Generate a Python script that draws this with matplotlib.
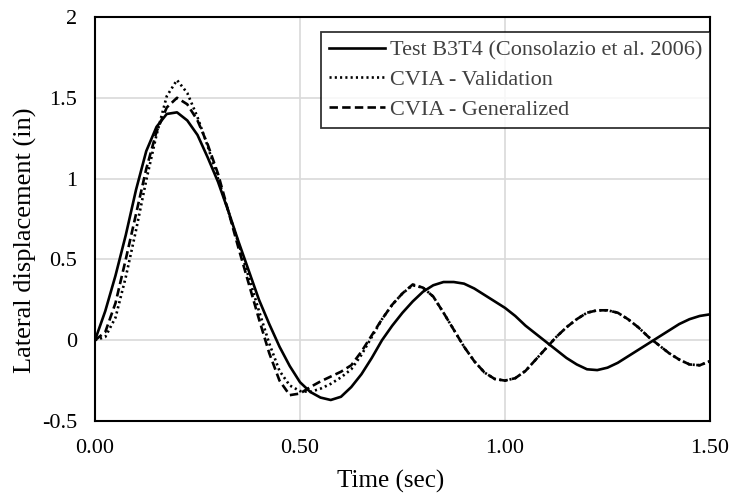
import matplotlib
matplotlib.use('Agg')
import matplotlib.pyplot as plt
import numpy as np

plt.rcParams['font.family'] = ['Liberation Serif', 'DejaVu Serif']

# time axis (sec)
time = np.round(np.arange(0, 1.5001, 0.025), 3)

# Test B3T4 (Consolazio et al. 2006)
test_b3t4 = [0.00, 0.18, 0.40, 0.65, 0.93, 1.17, 1.32, 1.40, 1.41, 1.36,
             1.27, 1.13, 0.98, 0.80, 0.61, 0.43, 0.25, 0.10, -0.04, -0.16,
             -0.26, -0.32, -0.355, -0.37, -0.35, -0.29, -0.21, -0.11, 0.00, 0.09,
             0.17, 0.24, 0.30, 0.34, 0.36, 0.36, 0.35, 0.32, 0.28, 0.24,
             0.20, 0.15, 0.09, 0.04, -0.01, -0.06, -0.11, -0.15, -0.18, -0.185,
             -0.17, -0.14, -0.10, -0.06, -0.02, 0.02, 0.06, 0.10, 0.13, 0.15,
             0.16]

# CVIA - Validation
cvia_val = [0.00, 0.02, 0.14, 0.39, 0.68, 0.99, 1.27, 1.51, 1.61, 1.53,
            1.38, 1.20, 1.00, 0.80, 0.60, 0.39, 0.18, -0.02, -0.19, -0.28,
            -0.315, -0.32, -0.30, -0.27, -0.23, -0.18, -0.09, 0.02, 0.13, 0.22,
            0.29, 0.34, 0.325, 0.27, 0.17, 0.065, -0.04, -0.13, -0.20, -0.24,
            -0.25, -0.235, -0.19, -0.12, -0.05, 0.02, 0.08, 0.13, 0.17, 0.185,
            0.185, 0.17, 0.13, 0.08, 0.02, -0.03, -0.08, -0.12, -0.15, -0.155,
            -0.13]

# CVIA - Generalized
cvia_gen = [0.00, 0.05, 0.23, 0.50, 0.78, 1.06, 1.29, 1.44, 1.50, 1.46,
            1.36, 1.21, 1.03, 0.80, 0.57, 0.35, 0.13, -0.08, -0.25, -0.34,
            -0.33, -0.29, -0.255, -0.225, -0.195, -0.155, -0.07, 0.03, 0.13, 0.22,
            0.29, 0.345, 0.325, 0.27, 0.17, 0.065, -0.04, -0.13, -0.20, -0.24,
            -0.25, -0.235, -0.19, -0.12, -0.05, 0.02, 0.08, 0.13, 0.17, 0.185,
            0.185, 0.17, 0.13, 0.08, 0.02, -0.03, -0.08, -0.12, -0.15, -0.155,
            -0.13]

xticks = [0, 0.5, 1.0, 1.5]
xticklabels = ['0.00', '0.50', '1.00', '1.50']
yticks = [-0.5, 0, 0.5, 1, 1.5, 2]
yticklabels = ['-0.5', '0', '0.5', '1', '1.5', '2']

fig = plt.figure(figsize=(7.32, 4.95), dpi=100)
ax = fig.add_axes([95/732., 1 - 421/495., 615/732., 404/495.])

ax.plot(time, test_b3t4, color='black', lw=1.9, ls='-', solid_joinstyle='round',
        label='Test B3T4 (Consolazio et al. 2006)')
ax.plot(time, cvia_val, color='black', lw=1.9, ls=(0, (0.8, 1.2)),
        dash_joinstyle='round', label='CVIA - Validation')
ax.plot(time, cvia_gen, color='black', lw=1.9, ls=(0, (3.2, 1.6)),
        dash_joinstyle='round', label='CVIA - Generalized')

ax.set_xlim(0, 1.5)
ax.set_ylim(-0.5, 2)
ax.set_xticks(xticks)
ax.set_xticklabels(xticklabels)
ax.set_yticks(yticks)
ax.set_yticklabels(yticklabels)
ax.tick_params(length=0, labelsize=16, pad=13)
ax.grid(color='#d9d9d9', lw=1.2)
ax.set_axisbelow(True)
for s in ax.spines.values():
    s.set_linewidth(1.5)

ax.set_xlabel('Time (sec)', fontsize=18)
ax.set_ylabel('Lateral displacement (in)', fontsize=19)
ax.xaxis.set_label_coords(0.48, -0.12)
ax.yaxis.set_label_coords(-0.094, 0.448)

leg = ax.legend(loc='upper right', bbox_to_anchor=(1.0, 0.963), fontsize=16,
                frameon=True, fancybox=False, handlelength=2.5,
                handletextpad=0.23, borderpad=0.35, labelspacing=0.42,
                borderaxespad=0)
leg.get_frame().set_edgecolor('black')
leg.get_frame().set_linewidth(1.3)
for t in leg.get_texts():
    t.set_color('#404040')

fig.savefig('out.png', dpi=100)
